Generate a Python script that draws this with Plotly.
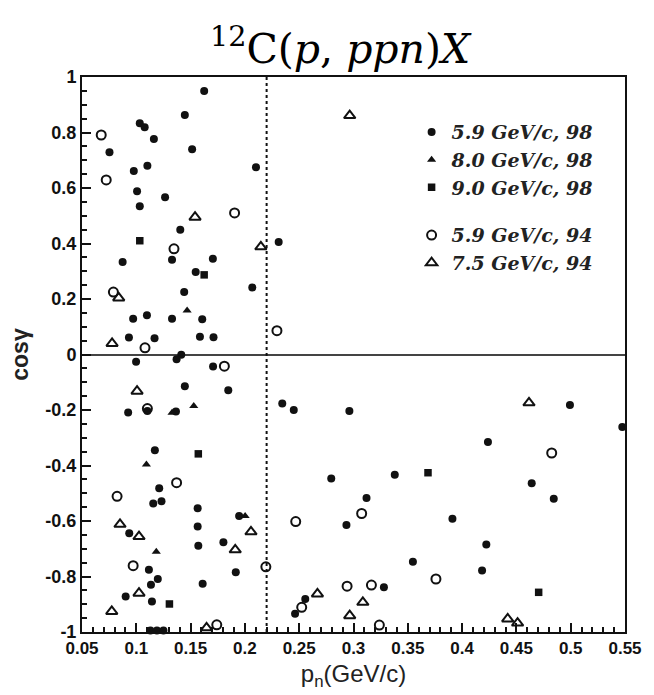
import plotly.graph_objects as go

# 5.9 GeV/c, 98 (filled circles)
fc_x = [0.0753, 0.1625, 0.1447, 0.1032, 0.1077, 0.1162, 0.1514, 0.1102, 0.0977, 0.1007,
        0.1265, 0.1032, 0.1405, 0.0874, 0.1329, 0.1705, 0.1547, 0.2102, 0.2311, 0.2068,
        0.1441, 0.0971, 0.1098, 0.1329, 0.1607, 0.0932, 0.1168, 0.1586, 0.1711, 0.1414,
        0.1371, 0.0998, 0.1707, 0.1447, 0.1847, 0.1102, 0.0925, 0.1365, 0.1171, 0.1211,
        0.1156, 0.1232, 0.1565, 0.1947, 0.0935, 0.1565, 0.1571, 0.1802, 0.1116, 0.1916,
        0.1198, 0.1135, 0.1611, 0.0902, 0.1144, 0.113, 0.119, 0.125, 0.2344, 0.2450,
        0.2962, 0.2795, 0.3380, 0.3120, 0.2935, 0.3280, 0.3547, 0.2556, 0.2462, 0.4993,
        0.5475, 0.4238, 0.4641, 0.4844, 0.3911, 0.4223, 0.4184]
fc_y = [0.729, 0.950, 0.863, 0.833, 0.819, 0.777, 0.740, 0.680, 0.661, 0.588,
        0.567, 0.534, 0.450, 0.333, 0.341, 0.345, 0.297, 0.675, 0.405, 0.241,
        0.225, 0.129, 0.141, 0.129, 0.127, 0.061, 0.059, 0.064, 0.062, -0.001,
        -0.017, -0.026, -0.043, -0.114, -0.129, -0.204, -0.209, -0.205, -0.345, -0.482,
        -0.537, -0.529, -0.554, -0.582, -0.644, -0.620, -0.689, -0.677, -0.776, -0.785,
        -0.809, -0.830, -0.826, -0.872, -0.890, -0.995, -0.995, -0.995, -0.177, -0.200,
        -0.204, -0.447, -0.433, -0.517, -0.614, -0.839, -0.747, -0.881, -0.934, -0.182,
        -0.261, -0.315, -0.464, -0.520, -0.592, -0.685, -0.778]

# 8.0 GeV/c, 98 (filled triangles)
ft_x = [0.1468, 0.1329, 0.1529, 0.1093, 0.1184, 0.2002]
ft_y = [0.159, -0.210, -0.186, -0.396, -0.711, -0.582]

# 9.0 GeV/c, 98 (filled squares)
fs_x = [0.1032, 0.1625, 0.1571, 0.1305, 0.3686, 0.4705]
fs_y = [0.410, 0.287, -0.358, -0.899, -0.426, -0.857]

# 5.9 GeV/c, 94 (open circles)
oc_x = [0.0677, 0.0723, 0.1905, 0.1347, 0.0789, 0.2295, 0.1080, 0.1811, 0.1102, 0.1371,
        0.0823, 0.0971, 0.1741, 0.2193, 0.2468, 0.3075, 0.2941, 0.3165, 0.2523, 0.3238,
        0.4825, 0.3759]
oc_y = [0.791, 0.629, 0.510, 0.381, 0.225, 0.086, 0.024, -0.042, -0.195, -0.462,
        -0.511, -0.761, -0.974, -0.765, -0.602, -0.573, -0.835, -0.831, -0.911, -0.975,
        -0.355, -0.809]

# 7.5 GeV/c, 94 (open triangles)
ot_x = [0.1541, 0.0838, 0.2147, 0.2965, 0.0777, 0.1007, 0.0850, 0.1025, 0.1911, 0.2056,
        0.1025, 0.0774, 0.1647, 0.2668, 0.3086, 0.2965, 0.4616, 0.4420, 0.4511]
ot_y = [0.495, 0.204, 0.388, 0.861, 0.040, -0.132, -0.612, -0.656, -0.704, -0.639,
        -0.860, -0.926, -0.985, -0.863, -0.893, -0.941, -0.174, -0.953, -0.968]

x_ticks = [0.05, 0.1, 0.15, 0.2, 0.25, 0.3, 0.35, 0.4, 0.45, 0.5, 0.55]
x_ticklabels = ["0.05", "0.1", "0.15", "0.2", "0.25", "0.3", "0.35", "0.4", "0.45", "0.5", "0.55"]
y_ticks = [-1, -0.8, -0.6, -0.4, -0.2, 0, 0.2, 0.4, 0.6, 0.8, 1]
y_ticklabels = ["-1", "-0.8", "-0.6", "-0.4", "-0.2", "0", "0.2", "0.4", "0.6", "0.8", "1"]
cut_x = 0.22

INK = "#111111"
fig = go.Figure()

def add(x, y, name, symbol, size, group, lw=0):
    fig.add_trace(go.Scatter(
        x=x, y=y, mode="markers", name=f"<b><i>{name}</i></b>",
        legendgroup=group, cliponaxis=False,
        marker=dict(symbol=symbol, size=size, color=INK, line=dict(color=INK, width=lw)),
    ))

add(fc_x, fc_y, "5.9 GeV/c, 98", "circle", 8, "98")
add(ft_x, ft_y, "8.0 GeV/c, 98", "triangle-up", 8, "98")
add(fs_x, fs_y, "9.0 GeV/c, 98", "square", 7.5, "98")
add(oc_x, oc_y, "5.9 GeV/c, 94", "circle-open", 9, "94", lw=2)
add(ot_x, ot_y, "7.5 GeV/c, 94", "triangle-up-open", 10, "94", lw=2)

fig.add_shape(type="line", x0=cut_x, x1=cut_x, y0=-1, y1=1, xref="x", yref="y",
              line=dict(color=INK, width=2, dash="dot"))

fig.update_layout(
    width=654, height=695,
    margin=dict(l=81.5, r=22.5, t=77, b=62),
    paper_bgcolor="white", plot_bgcolor="white",
    title=dict(text="<sup>12</sup>C(<i>p</i>, <i>ppn</i>)<i>X</i>",
               x=0.52, xref="container", y=0.93, yref="container", yanchor="middle",
               font=dict(family="DejaVu Serif", size=41, color="black")),
    showlegend=True,
    legend=dict(x=0.607, y=0.935, xanchor="left", yanchor="top", bgcolor="rgba(0,0,0,0)",
                font=dict(family="DejaVu Serif", size=19, color="#222222"),
                tracegroupgap=20, traceorder="grouped", itemsizing="trace"),
    xaxis=dict(range=[0.05, 0.55], tickvals=x_ticks, ticktext=[f"<b>{t}</b>" for t in x_ticklabels],
               ticks="inside", ticklen=9, tickwidth=2, tickcolor=INK,
               minor=dict(dtick=0.01, ticks="inside", ticklen=5, tickwidth=1.5, tickcolor=INK),
               showgrid=False, zeroline=False, showline=True, linecolor=INK, linewidth=2, mirror=True,
               tickfont=dict(family="Liberation Sans", size=17, color=INK),
               title=dict(text="p<sub>n</sub>(GeV/c)", standoff=8,
                          font=dict(family="Liberation Sans", size=24, color="#222222"))),
    yaxis=dict(range=[-1, 1], tickvals=y_ticks, ticktext=[f"<b>{t}</b>" for t in y_ticklabels],
               ticks="inside", ticklen=9, tickwidth=2, tickcolor=INK,
               minor=dict(dtick=0.05, ticks="inside", ticklen=5, tickwidth=1.5, tickcolor=INK),
               showgrid=False, zeroline=True, zerolinecolor="#444444", zerolinewidth=2,
               showline=True, linecolor=INK, linewidth=2, mirror=True,
               tickfont=dict(family="Liberation Sans", size=18, color=INK),
               title=dict(text="<b>cosγ</b>", standoff=10,
                          font=dict(family="Liberation Sans", size=23, color="#222222"))),
)

fig.write_html("out.html")
